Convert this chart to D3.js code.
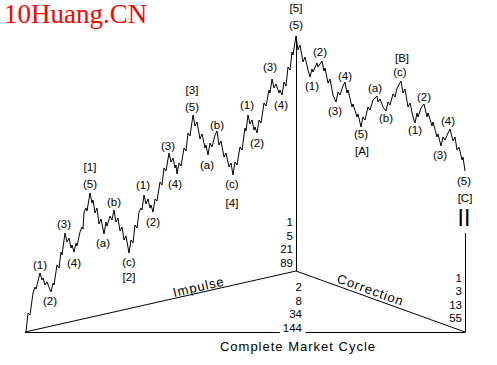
<!DOCTYPE html>
<html><head><meta charset="utf-8">
<script src="https://cdn.jsdelivr.net/npm/d3@7"></script>
<style>
body{margin:0;background:#fff}
svg{display:block}
text{font-family:"Liberation Sans",Arial,sans-serif;fill:#000}
</style>
</head><body>
<svg id="c" width="497" height="365"></svg>
<script>
// Elliott wave path, [time, price]
const wave1 = [[1,-2],[3,17],[5,15],[8,37],[10,43],[11,41],[15,57],[17,50],[18,52],[20,45],[22,48],[26,38],[28,47],[29,45],[32,65],[34,62],[36,78],[37,75],[40,97],[42,88],[44,92],[46,82],[47,85],[49,78],[51,87],[52,84],[55,98],[57,103],[58,101],[59,118],[61,122],[62,119],[65,137]];
const wave2 = [[67,127],[68,130],[70,117],[72,122],[74,106],[76,111],[79,96],[81,108],[82,104],[85,114],[87,110],[89,120],[91,108],[93,112],[95,99],[97,103],[99,90],[101,94],[104,77]];
const wave3 = [[106,90],[108,87],[110,105],[112,102],[114,118],[116,122],[117,120],[119,135],[121,126],[123,131],[125,122],[126,125],[128,118],[130,131],[132,129],[135,148],[137,145],[139,162],[141,159],[144,177],[146,168],[148,172],[150,162],[151,165],[152,156],[154,167],[156,164],[159,182],[161,179],[163,197],[165,194],[168,215]];
const wave4 = [[170,204],[172,208],[175,191],[177,196],[180,182],[181,185],[183,175],[185,187],[187,183],[190,195],[192,199],[194,185],[196,189],[199,173],[201,177],[204,163],[206,167],[208,155]];
const wave5 = [[210,168],[212,165],[215,183],[217,180],[220,202],[221,199],[223,215],[225,206],[227,210],[229,200],[230,203],[232,197],[234,210],[236,207],[239,227],[241,224],[244,240],[245,237],[247,251],[249,242],[251,246],[254,237],[255,240],[257,235],[259,248],[261,244],[263,263],[265,260],[267,278],[268,275],[271,294]];
const waveA = [[273,280],[275,285],[278,268],[280,273],[283,260],[285,253],[287,261],[288,258],[292,267],[293,263],[297,269],[299,259],[300,262],[303,247],[305,251],[308,235],[311,228],[313,238],[315,235],[318,244],[320,248],[322,237],[323,240],[327,223],[328,226],[332,213],[333,216],[336,203]];
const waveB = [[338,213],[340,210],[343,223],[345,220],[348,230],[352,234],[353,228],[355,231],[358,223],[361,219],[363,228],[365,225],[368,236],[370,233],[372,242],[376,249]];
const waveC = [[378,237],[380,241],[383,223],[385,227],[388,213],[390,207],[392,217],[393,213],[396,222],[399,226],[402,213],[403,217],[407,204],[408,208],[412,193],[413,196],[416,184],[418,193],[420,190],[423,197],[425,201],[428,189],[430,193],[432,180],[434,183],[437,170],[438,173],[440,159]];

const minorLabels = [["(1)",15,65],["(2)",25,29],["(3)",39,106],["(4)",49,67],["(5)",65,146],["(a)",78,87],["(b)",89,128],["(c)",104,68],
["(1)",118,145],["(2)",128,108],["(3)",143,184],["(4)",150,146],["(5)",167,223],["(a)",182,165],["(b)",192,205],["(c)",207,146],
["(1)",222,225],["(2)",232,187],["(3)",245,263],["(4)",256,225],["(5)",271,305],
["(1)",287,244],["(2)",295,278],["(3)",310,219],["(4)",320,254],["(5)",336,196],["(a)",350,242],["(b)",361,212],["(c)",375,258],
["(1)",390,200],["(2)",399,233],["(3)",415,175],["(4)",423,209],["(5)",439,149]];
const majorLabels = [["[1]",65,163],["[2]",104,53],["[3]",167,240],["[4]",207,127],["[5]",271,322],["[A]",337,179],["[B]",377,272],["[C]",440,132]];

const fibImpulse = ["1","5","21","89"];
const fibCycle = ["2","8","34","144"];
const fibCorrection = ["1","3","13","55"];
const frameOrigin = [0,-2], frameApex = [271,59], frameTop = [271,294], frameEnd = [440,-2], frameRightTop = [440,97];

const svg = d3.select("#c");
svg.append("rect").attr("width",497).attr("height",365).attr("fill","#fff");
const x = d3.scaleLinear().domain([0,440]).range([25,465]);
const y = d3.scaleLinear().domain([0,300]).range([330,30]);

// title
svg.append("text").attr("x",4).attr("y",23).text("10Huang.CN")
  .style("font-family","'Liberation Serif','Times New Roman',serif").style("font-size","27px").style("fill","#ff0000");

const g = svg.append("g").attr("fill","none").attr("stroke","#000").attr("stroke-width",1);
// wave path
const all = [].concat(wave1,wave2,wave3,wave4,wave5,waveA,waveB,waveC);
const line = d3.line().x(d=>x(d[0])).y(d=>y(d[1]));
g.append("path").attr("d",line(all));

// frame lines
g.append("line").attr("x1",Math.round(x(frameTop[0]))+0.5).attr("x2",Math.round(x(frameTop[0]))+0.5)
  .attr("y1",y(frameTop[1])).attr("y2",y(frameApex[1]));
g.append("path").attr("d",line([frameOrigin,frameApex,frameEnd]));
g.append("line").attr("x1",Math.round(x(frameEnd[0]))+0.5).attr("x2",Math.round(x(frameEnd[0]))+0.5)
  .attr("y1",y(frameRightTop[1])).attr("y2",y(frameEnd[1])+0.5);

// labels
const fs = "11.5px";
svg.selectAll("text.minor").data(minorLabels).join("text").attr("class","minor")
  .attr("x",d=>x(d[1])).attr("y",d=>y(d[2])+4).attr("text-anchor","middle").style("font-size",fs).text(d=>d[0]);
svg.selectAll("text.major").data(majorLabels).join("text").attr("class","major")
  .attr("x",d=>x(d[1])).attr("y",d=>y(d[2])+4).attr("text-anchor","middle").style("font-size",fs).text(d=>d[0]);

// fibonacci columns
const ax = x(frameApex[0]), ay = y(frameApex[1]);
svg.selectAll("text.fi").data(fibImpulse).join("text").attr("class","fi")
  .attr("x",ax-3).attr("y",(d,i)=>ay-45+i*13.7).attr("text-anchor","end").style("font-size",fs).text(d=>d);
let cyc = svg.selectAll("text.fc").data(fibCycle).join("text").attr("class","fc")
  .attr("x",ax+6).attr("y",(d,i)=>ay+20+i*13.7).attr("text-anchor","end").style("font-size",fs).text(d=>d);
const ex = x(frameEnd[0]), ey = y(frameEnd[1]);
svg.selectAll("text.fr").data(fibCorrection).join("text").attr("class","fr")
  .attr("x",ex-3).attr("y",(d,i)=>ey-50+i*13.4).attr("text-anchor","end").style("font-size",fs).text(d=>d);

// baseline with gap around 144
const bb = cyc.filter((d,i)=>i===3).node().getBBox();
const by = Math.round(y(frameEnd[1]))+0.5;
g.append("line").attr("x1",x(frameOrigin[0])).attr("x2",bb.x-3).attr("y1",by).attr("y2",by);
g.append("line").attr("x1",bb.x+bb.width+3).attr("x2",x(frameEnd[0])).attr("y1",by).attr("y2",by);

// II marker
svg.append("text").attr("x",ex-1).attr("y",226).attr("text-anchor","middle").style("font-size","23px").text("II");

// axis names
function slanted(label, p0, p1, frac, off){
  const X0=x(p0[0]),Y0=y(p0[1]),X1=x(p1[0]),Y1=y(p1[1]);
  const ang = Math.atan2(Y1-Y0,X1-X0);
  const px = X0+(X1-X0)*frac, py = Y0+(Y1-Y0)*frac;
  svg.append("text").attr("transform",`translate(${px+Math.sin(ang)*off},${py-Math.cos(ang)*off}) rotate(${ang*180/Math.PI})`)
    .attr("text-anchor","middle").style("font-size","13px").style("letter-spacing","1px").text(label);
}
slanted("Impulse", frameOrigin, frameApex, 0.646, 1.5);
slanted("Correction", frameApex, frameEnd, 0.426, 3);
svg.append("text").attr("x",ax+2).attr("y",351).attr("text-anchor","middle").style("font-size","13px").style("letter-spacing","1px").text("Complete Market Cycle");
</script>
</body></html>
